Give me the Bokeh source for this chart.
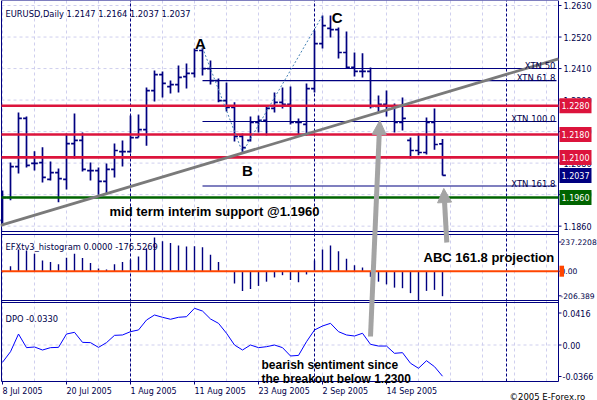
from bokeh.plotting import figure
from bokeh.models import Range1d, Label, Arrow, NormalHead, ColumnDataSource
from bokeh.core.properties import value
from bokeh.embed import file_html
from bokeh.resources import INLINE

# ---------------- data ----------------
symbol = "EURUSD,Daily"
date_labels = ["8 Jul 2005", "20 Jul 2005", "1 Aug 2005", "11 Aug 2005",
               "23 Aug 2005", "2 Sep 2005", "14 Sep 2005"]
date_bars = [0, 8, 16, 24, 32, 40, 48]
month_separators = [16, 39, 63]

opens = [1.1880, 1.1960, 1.2068, 1.2236, 1.2079, 1.2082, 1.2023, 1.2047, 1.2023, 1.2148,
         1.2159, 1.2054, 1.2054, 1.2016, 1.2058, 1.2120, 1.2120, 1.2169, 1.2197, 1.2333,
         1.2389, 1.2347, 1.2354, 1.2382, 1.2393, 1.2473, 1.2410, 1.2368, 1.2298, 1.2274,
         1.2173, 1.2159, 1.2222, 1.2229, 1.2271, 1.2292, 1.2285, 1.2222, 1.2215, 1.2340,
         1.2497, 1.2550, 1.2546, 1.2466, 1.2414, 1.2400, 1.2400, 1.2278, 1.2285, 1.2278,
         1.2222, 1.2159, 1.2124, 1.2117, 1.2222, 1.2147]
highs = [1.1984, 1.2082, 1.2257, 1.2243, 1.2121, 1.2135, 1.2086, 1.2061, 1.2183, 1.2253,
         1.2187, 1.2082, 1.2065, 1.2079, 1.2148, 1.2159, 1.2246, 1.2250, 1.2344, 1.2403,
         1.2400, 1.2368, 1.2421, 1.2428, 1.2480, 1.2483, 1.2438, 1.2375, 1.2361, 1.2292,
         1.2183, 1.2243, 1.2246, 1.2281, 1.2326, 1.2344, 1.2347, 1.2236, 1.2358, 1.2543,
         1.2595, 1.2595, 1.2553, 1.2539, 1.2466, 1.2463, 1.2414, 1.2316, 1.2333, 1.2288,
         1.2309, 1.2169, 1.2183, 1.2239, 1.2271, 1.2164]
lows = [1.1869, 1.1950, 1.2044, 1.2065, 1.2054, 1.2012, 1.2019, 1.1943, 1.1988, 1.2096,
        1.2051, 1.2019, 1.1970, 1.1974, 1.2030, 1.2068, 1.2117, 1.2169, 1.2141, 1.2295,
        1.2309, 1.2323, 1.2326, 1.2340, 1.2379, 1.2386, 1.2354, 1.2292, 1.2260, 1.2155,
        1.2117, 1.2155, 1.2187, 1.2176, 1.2257, 1.2271, 1.2215, 1.2180, 1.2176, 1.2326,
        1.2480, 1.2518, 1.2445, 1.2410, 1.2382, 1.2379, 1.2271, 1.2257, 1.2243, 1.2187,
        1.2194, 1.2096, 1.2107, 1.2110, 1.2127, 1.2037]
closes = [1.1960, 1.2068, 1.2236, 1.2072, 1.2079, 1.2030, 1.2047, 1.2026, 1.2148, 1.2159,
          1.2058, 1.2054, 1.2016, 1.2058, 1.2124, 1.2120, 1.2169, 1.2197, 1.2333, 1.2389,
          1.2358, 1.2354, 1.2379, 1.2393, 1.2473, 1.2410, 1.2368, 1.2298, 1.2274, 1.2173,
          1.2134, 1.2222, 1.2229, 1.2271, 1.2292, 1.2285, 1.2222, 1.2222, 1.2340, 1.2497,
          1.2560, 1.2546, 1.2466, 1.2414, 1.2400, 1.2400, 1.2278, 1.2285, 1.2278, 1.2222,
          1.2236, 1.2124, 1.2117, 1.2222, 1.2145, 1.2037]

hist_vals = [-8, 35, 153, 146, 123, 76, 65, 49, 95, 123,
             93, 58, 19, 12, 49, 65, 80, 104, 162, 237.22,
             212, 199, 181, 174, 176, 169, 116, 65, 3, -86,
             -139, -125, -104, -74, -44, -28, -62, -78, -23, 76,
             153, 181, 141, 88, 42, 26, -40, -74, -93, -116,
             -120, -155, -206.39, -139, -132, -176.5269]
dpo_vals = [-0.0183, -0.0071, 0.0116, -0.0028, -0.0021, -0.0053, -0.0028, -0.0025, 0.0116, 0.0134,
            0.0028, 0.0025, -0.0025, 0.0025, 0.0102, 0.0106, 0.0141, 0.0159, 0.0264, 0.0317,
            0.0293, 0.0272, 0.0293, 0.0299, 0.0388, 0.0359, 0.0275, 0.0229, 0.0124, 0.0000,
            -0.0053, 0.0000, -0.0028, -0.0018, 0.0000, -0.0028, -0.0116, -0.0110, 0.0035, 0.0159,
            0.0201, 0.0229, 0.0141, 0.0106, 0.0095, 0.0124, 0.0007, -0.0011, -0.0011, -0.0088,
            -0.0081, -0.0193, -0.0246, -0.0166, -0.0229, -0.0330]

price_ticks = [1.1860, 1.1970, 1.2080, 1.2190, 1.2300, 1.2410, 1.2520, 1.2630]
resistance_levels = [1.2280, 1.2180, 1.2100]
support_level = 1.1960
xtn_names = ["XTN 50", "XTN 61.8", "XTN 100.0", "XTN 161.8"]
xtn_levels = [1.2410, 1.2368, 1.2225, 1.2000]
abc_names = ["A", "B", "C"]
abc_bars = [25, 30, 40]
abc_prices = [1.2483, 1.2117, 1.2595]
trend_bars = [-0.25, 69.5]
trend_prices = [1.1863, 1.2444]
hist_axis_labels = ["237.2208", "0.00", "-206.389"]
dpo_axis_labels = ["0.0416", "0.00", "-0.0366"]

# ---------------- styling ----------------
NAVY = "#000080"
TXT = "#00004a"
GRID = "#cfcfee"
RED = "#dc143c"
GREEN = "#006400"
ARROW = "#a4a4a4"
SMALL = "DejaVu Sans"
BOLD = "Liberation Sans"

# reference-pixel -> data helpers (placement of frames, scales and notes)
def bx(px):
    return (px - 2.0) / 8.0
def py(px):
    return 1.26475 - 0.000349 * px
def hy(px):
    return (270.7 - px) / 0.1416
def dy(px):
    return (344.5 - px) / 946.0

W, H = 597, 400
idx = list(range(len(opens)))

p = figure(width=W, height=H, output_backend="svg", toolbar_location=None,
           x_range=Range1d(bx(0), bx(W)), y_range=Range1d(py(H), py(0)),
           x_axis_location=None, y_axis_location=None, min_border=0,
           background_fill_color="white", border_fill_color="white",
           outline_line_color=None)
p.grid.visible = False
p.extra_y_ranges = {"hist": Range1d(hy(H), hy(0)), "dpo": Range1d(dy(H), dy(0))}

LEFT, RIGHT, TOP, BOTTOM = bx(1), bx(558), py(0), py(381)

# ---- grid ----
vgrid = list(range(0, 70, 4))
p.segment(x0=vgrid, y0=[BOTTOM] * len(vgrid), x1=vgrid, y1=[TOP] * len(vgrid),
          line_color=GRID, line_dash="3 3", line_width=1)
p.segment(x0=[LEFT] * len(price_ticks), y0=price_ticks, x1=[RIGHT] * len(price_ticks),
          y1=price_ticks, line_color=GRID, line_dash="3 3", line_width=1)
p.segment(x0=[LEFT], y0=[0], x1=[RIGHT], y1=[0], y_range_name="dpo",
          line_color=GRID, line_dash="3 3", line_width=1)

# ---- month separators ----
p.segment(x0=month_separators, y0=[BOTTOM] * 3, x1=month_separators, y1=[TOP] * 3,
          line_color=NAVY, line_dash="3 2", line_width=1)

# ---- frames ----
p.segment(x0=[LEFT, RIGHT], y0=[BOTTOM, BOTTOM], x1=[LEFT, RIGHT], y1=[TOP, TOP],
          line_color=NAVY, line_width=1)
p.segment(x0=[LEFT] * 3, y0=[TOP, py(231), BOTTOM], x1=[RIGHT] * 3,
          y1=[TOP, py(231), BOTTOM], line_color=NAVY, line_width=1)
p.segment(x0=[LEFT] * 2, y0=[hy(234), hy(300)], x1=[RIGHT] * 2, y1=[hy(234), hy(300)],
          y_range_name="hist", line_color=NAVY, line_width=1)
p.segment(x0=[LEFT], y0=[dy(302)], x1=[RIGHT], y1=[dy(302)],
          y_range_name="dpo", line_color=NAVY, line_width=1)

# ---- price scale (right) ----
n = len(price_ticks)
p.segment(x0=[RIGHT] * n, y0=price_ticks, x1=[bx(561)] * n, y1=price_ticks,
          line_color=NAVY, line_width=1)
p.text(x=[bx(563)] * n, y=price_ticks, text=["%.4f" % t for t in price_ticks],
       text_font=value(SMALL), text_font_size="8px", text_color=TXT,
       text_baseline="middle", text_align="left")

# ---- date scale (bottom) ----
m = len(date_bars)
p.segment(x0=date_bars, y0=[BOTTOM] * m, x1=date_bars, y1=[py(384)] * m,
          line_color=NAVY, line_width=1)
p.text(x=date_bars, y=[py(386)] * m, text=date_labels, text_font=value(SMALL),
       text_font_size="8px", text_color=TXT, text_baseline="top", text_align="left")

# ---- histogram panel ----
hsrc = ColumnDataSource(dict(x=idx, v=hist_vals, z=[0] * len(idx)))
p.segment(x0="x", y0="z", x1="x", y1="v", source=hsrc, y_range_name="hist",
          line_color=NAVY, line_width=1.4)
p.segment(x0=[LEFT], y0=[0], x1=[RIGHT], y1=[0], y_range_name="hist",
          line_color="#ff4500", line_width=2)
p.segment(x0=[RIGHT] * 3, y0=[hy(241.5), 0, hy(295.3)], x1=[bx(561)] * 3,
          y1=[hy(241.5), 0, hy(295.3)], y_range_name="hist", line_color=NAVY, line_width=1)
p.text(x=[bx(560)] * 3, y=[hy(241.5), 0, hy(295.3)], text=hist_axis_labels,
       y_range_name="hist", text_font=value(SMALL), text_font_size="7.6px",
       text_color=TXT, text_baseline="middle", text_align="left")

# ---- DPO panel ----
p.line(idx, dpo_vals, y_range_name="dpo", line_color="#0000ff", line_width=1)
p.segment(x0=[RIGHT] * 3, y0=[dy(312.5), 0, dy(376)], x1=[bx(561)] * 3,
          y1=[dy(312.5), 0, dy(376)], y_range_name="dpo", line_color=NAVY, line_width=1)
p.text(x=[bx(562)] * 3, y=[dy(312.5), 0, dy(376)], text=dpo_axis_labels,
       y_range_name="dpo", text_font=value(SMALL), text_font_size="8px",
       text_color=TXT, text_baseline="middle", text_align="left")

# ---- OHLC bars ----
src = ColumnDataSource(dict(x=idx, o=opens, h=highs, l=lows, c=closes,
                            xl=[i - 0.42 for i in idx], xr=[i + 0.42 for i in idx]))
p.segment(x0="x", y0="l", x1="x", y1="h", source=src, line_color=NAVY, line_width=1.7)
p.segment(x0="xl", y0="o", x1="x", y1="o", source=src, line_color=NAVY, line_width=1.7)
p.segment(x0="x", y0="c", x1="xr", y1="c", source=src, line_color=NAVY, line_width=1.7)

# ---- horizontal levels ----
k = len(resistance_levels)
p.segment(x0=[LEFT] * k, y0=resistance_levels, x1=[RIGHT] * k, y1=resistance_levels,
          line_color=RED, line_width=2.6)
p.segment(x0=[LEFT], y0=[support_level], x1=[RIGHT], y1=[support_level],
          line_color=GREEN, line_width=2.6)

# ---- XTN projection lines ----
p.segment(x0=[abc_bars[0]] * len(xtn_levels), y0=xtn_levels,
          x1=[bx(556)] * len(xtn_levels), y1=xtn_levels, line_color=NAVY, line_width=1.1)
for name, lvl in zip(xtn_names, xtn_levels):
    p.add_layout(Label(x=bx(555), y=lvl, y_offset=2.5, text=name, text_align="right",
                       text_baseline="alphabetic", text_font=SMALL,
                       text_font_size="8.5px", text_color=TXT))

# ---- ABC path and trend line ----
p.line(abc_bars, abc_prices, line_color="#4682b4", line_dash="2 2", line_width=1)
p.line(trend_bars, trend_prices, line_color="#7a7a7a", line_width=2.8)

# ---- gray arrows ----
p.add_layout(Arrow(end=NormalHead(size=14, fill_color=ARROW, line_color=ARROW),
                   x_start=bx(370), y_start=py(336), x_end=bx(379.3), y_end=py(120),
                   line_color=ARROW, line_width=5))
p.add_layout(Arrow(end=NormalHead(size=14, fill_color=ARROW, line_color=ARROW),
                   x_start=bx(446.3), y_start=py(242), x_end=bx(443.3), y_end=py(188),
                   line_color=ARROW, line_width=5))

# ---- ABC letters ----
letter_pos = [(200, 42.7), (247, 170), (336.7, 17.3)]
for name, (lx, ly) in zip(abc_names, letter_pos):
    p.add_layout(Label(x=bx(lx), y=py(ly), text=name, text_align="center",
                       text_baseline="alphabetic", text_font=BOLD, text_font_style="bold",
                       text_font_size="15px", text_color="black"))

# ---- comments ----
p.add_layout(Label(x=bx(109), y=py(210.5), text="mid term interim support @%.4f" % support_level,
                   text_font=BOLD, text_font_style="bold", text_font_size="13px",
                   text_color="black", text_baseline="alphabetic"))
p.add_layout(Label(x=bx(423), y=hy(257.3), y_range_name="hist", text="ABC 161.8 projection",
                   text_font=BOLD, text_font_style="bold", text_font_size="13px",
                   text_color="black", text_baseline="alphabetic"))
p.add_layout(Label(x=bx(261), y=dy(364.8), y_range_name="dpo", text="bearish sentiment since",
                   text_font=BOLD, text_font_style="bold", text_font_size="12px",
                   text_color="black", text_baseline="alphabetic"))
p.add_layout(Label(x=bx(261), y=dy(378.8), y_range_name="dpo", text="the breakout below 1.2300",
                   text_font=BOLD, text_font_style="bold", text_font_size="12px",
                   text_color="black", text_baseline="alphabetic"))

# ---- panel titles ----
p.add_layout(Label(x=bx(5), y=py(13.3),
                   text="%s   %.4f %.4f %.4f %.4f" % (symbol, opens[-1], highs[-1], lows[-1], closes[-1]),
                   text_font=SMALL, text_font_size="8.3px", text_color=TXT, text_baseline="alphabetic"))
p.add_layout(Label(x=bx(5), y=hy(246), y_range_name="hist",
                   text="EFXtv3_histogram 0.0000 %.4f" % hist_vals[-1],
                   text_font=SMALL, text_font_size="8.3px", text_color=TXT, text_baseline="alphabetic"))
p.add_layout(Label(x=bx(5), y=dy(318), y_range_name="dpo",
                   text="DPO %.4f" % dpo_vals[-1],
                   text_font=SMALL, text_font_size="8.3px", text_color=TXT, text_baseline="alphabetic"))

# ---- value boxes on the price scale ----
boxes = [(lvl, RED) for lvl in resistance_levels] + [(closes[-1], NAVY), (support_level, GREEN)]
for lvl, col in boxes:
    p.add_layout(Label(x=bx(559), y=lvl, text="%.4f" % lvl, text_font=SMALL,
                       text_font_size="8px", text_color="white", text_baseline="middle",
                       background_fill_color=col, padding=(2, 4)))
p.add_layout(Label(x=bx(559), y=0, y_range_name="hist", text=" ", text_font=SMALL,
                   text_font_size="8px", text_baseline="middle",
                   background_fill_color="#ff4500", padding=(1, 1)))

# ---- copyright ----
p.add_layout(Label(x=bx(509), y=py(396), text="\u00a92005 E-Forex.ro", text_font=SMALL,
                   text_font_size="8.5px", text_color="black", text_baseline="alphabetic"))

open("out.html", "w").write(file_html(p, INLINE))
